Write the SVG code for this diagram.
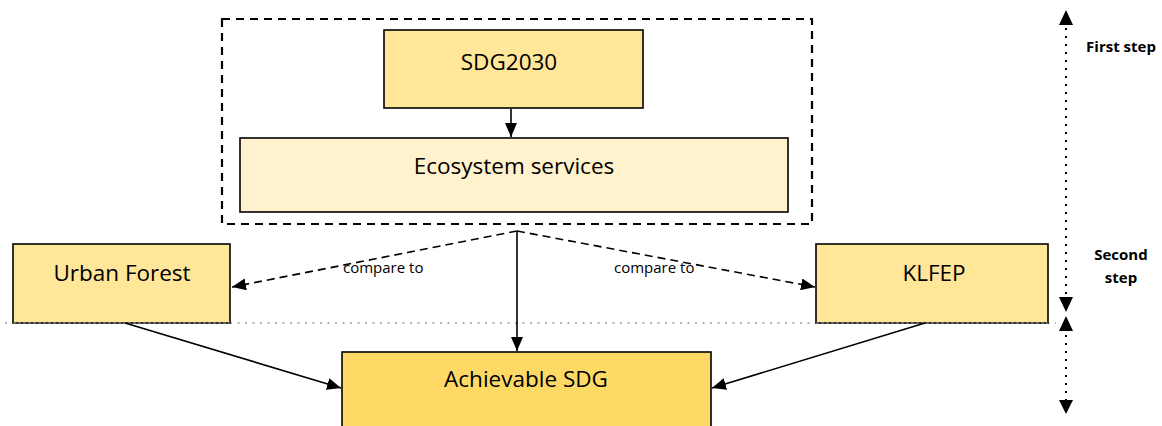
<svg xmlns="http://www.w3.org/2000/svg" width="1162" height="426" viewBox="0 0 1162 426">
<style>
.box{stroke:#000;stroke-width:1.6}
.lbl{font-family:"Open Sans","Liberation Sans",sans-serif;font-size:22.5px;fill:#000;text-anchor:middle}
.small{font-family:"Open Sans","Liberation Sans",sans-serif;font-size:15px;fill:#000}
.step{font-family:"Open Sans","Liberation Sans",sans-serif;font-size:15px;font-weight:bold;fill:#000;text-anchor:middle}
.solid{stroke:#000;stroke-width:1.6;fill:none}
.dash{stroke:#000;stroke-width:1.6;fill:none;stroke-dasharray:8 5}
.dots{stroke:#000;stroke-width:2;fill:none;stroke-dasharray:2 6}
</style>
<defs>
<marker id="ah" viewBox="0 0 14 12" refX="14" refY="6" markerWidth="14" markerHeight="12" markerUnits="userSpaceOnUse" orient="auto">
<path d="M0,0 L14,6 L0,12 z" fill="#000"/>
</marker>
</defs>
<rect width="1162" height="426" fill="#fff"/>
<g id="group-first-step">
<rect x="222" y="19" width="590" height="205" fill="none" stroke="#000" stroke-width="2.2" stroke-dasharray="8 6"/>
</g>
<line x1="5" y1="323" x2="1056" y2="323" stroke="#9a9a9a" stroke-width="1.6" stroke-dasharray="2 5.5"/>
<g id="node-sdg2030">
<rect class="box" x="384" y="30" width="259" height="78" fill="#FFE699"/>
<text class="lbl" x="509" y="70">SDG2030</text>
</g>
<g id="node-ecosystem">
<rect class="box" x="240" y="138" width="548" height="74" fill="#FFF2CC"/>
<text class="lbl" x="514" y="174">Ecosystem services</text>
</g>
<g id="node-urban-forest">
<rect class="box" x="13" y="244" width="217" height="79" fill="#FFE699"/>
<text class="lbl" x="122" y="281">Urban Forest</text>
</g>
<g id="node-klfep">
<rect class="box" x="816" y="244" width="232" height="79" fill="#FFE699"/>
<text class="lbl" x="934" y="281">KLFEP</text>
</g>
<g id="node-achievable">
<rect class="box" x="342" y="352" width="369" height="80" fill="#FFD966"/>
<text class="lbl" x="526" y="387">Achievable SDG</text>
</g>
<line x1="13" y1="323" x2="230" y2="323" stroke="#9a9a9a" stroke-width="1" stroke-dasharray="3 2"/>
<line x1="816" y1="323" x2="1048" y2="323" stroke="#9a9a9a" stroke-width="1" stroke-dasharray="3 2"/>
<g id="connectors">
<line class="solid" x1="511" y1="109" x2="511" y2="137" marker-end="url(#ah)"/>
<line class="solid" x1="517" y1="231" x2="517" y2="351" marker-end="url(#ah)"/>
<line class="dash" x1="517" y1="231" x2="232" y2="287" marker-end="url(#ah)"/>
<line class="dash" x1="517" y1="231" x2="815" y2="287" marker-end="url(#ah)"/>
<line class="solid" x1="125" y1="323" x2="341" y2="388" marker-end="url(#ah)"/>
<line class="solid" x1="925" y1="323" x2="712" y2="388" marker-end="url(#ah)"/>
<text class="small" x="343" y="273">compare to</text>
<text class="small" x="614" y="273">compare to</text>
</g>
<g id="step-indicator">
<line class="dots" x1="1066" y1="28" x2="1066" y2="297"/>
<line class="dots" x1="1066" y1="335" x2="1066" y2="400"/>
<path d="M1066,10 L1073,25 L1059,25 z" fill="#000"/>
<path d="M1059,297 L1073,297 L1066,312 z" fill="#000"/>
<path d="M1066,316 L1073,331 L1059,331 z" fill="#000"/>
<path d="M1059,400 L1073,400 L1066,414 z" fill="#000"/>
<text class="step" x="1121" y="52">First step</text>
<text class="step" x="1121" y="260">Second</text>
<text class="step" x="1121" y="283">step</text>
</g>
</svg>
